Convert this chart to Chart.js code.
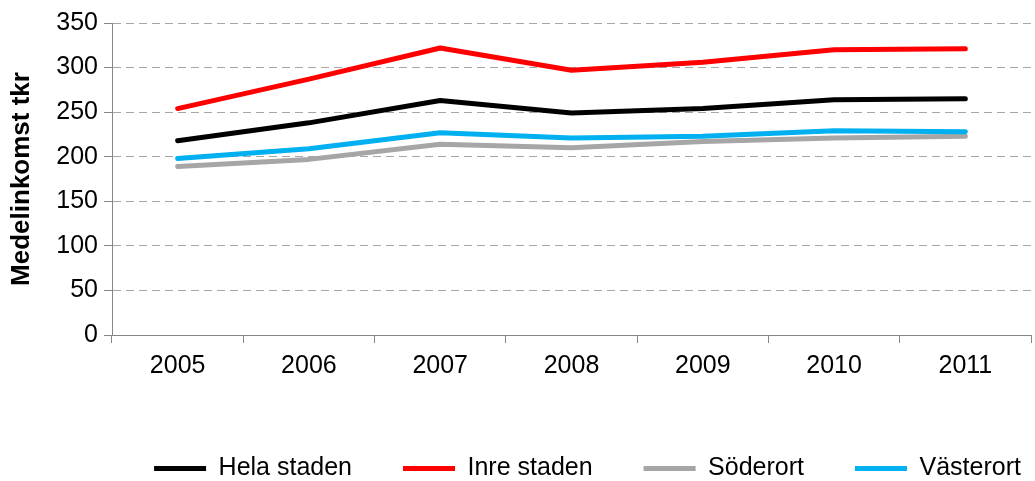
<!DOCTYPE html>
<html>
<head>
<meta charset="utf-8">
<script src="https://cdn.jsdelivr.net/npm/chart.js@4/dist/chart.umd.min.js"></script>
<style>
  html, body { margin: 0; padding: 0; background: #fff; }
  #wrap { width: 1035px; height: 481px; }
</style>
</head>
<body>
<div id="wrap"><canvas id="chart" width="1035" height="481"></canvas></div>
<script>
// data (tkr)
const years = ['2005', '2006', '2007', '2008', '2009', '2010', '2011']
const helaStaden = [218, 238, 263, 249, 254, 264, 265]
const inreStaden = [254, 287, 322, 297, 306, 320, 321]
const soderort = [189, 197, 214, 210, 217, 221, 223]
const vasterort = [198, 209, 227, 221, 223, 229, 228]
const yTicks = [0, 50, 100, 150, 200, 250, 300, 350]

const axisGrey = '#868686'
const font = { family: '"Liberation Sans", Arial, sans-serif', size: 25 }

function line(label, data, color, order) {
  return {
    label: label,
    data: data,
    borderColor: color,
    backgroundColor: color,
    borderWidth: 5,
    borderCapStyle: 'round',
    borderJoinStyle: 'round',
    pointRadius: 0,
    tension: 0,
    order: order
  }
}

// legend padding is also the gap between items, so pin its height here
// and shift the row to the right like in the original
const legendFix = {
  id: 'legendFix',
  beforeUpdate(chart) {
    const lg = chart.legend
    if (lg && !lg._fixed) {
      const fit = lg.fit
      lg.fit = function () { fit.call(this); this.height = 76 }
      const draw = lg.draw
      lg.draw = function () {
        const c = this.ctx
        c.save()
        c.translate(72, 0)
        draw.call(this)
        c.restore()
      }
      lg._fixed = true
    }
  }
}

const ctx = document.getElementById('chart').getContext('2d')

new Chart(ctx, {
  type: 'line',
  data: {
    labels: years,
    datasets: [
      line('Hela staden', helaStaden, '#000000', 3),
      line('Inre staden', inreStaden, '#ff0000', 2),
      line('Söderort', soderort, '#a6a6a6', 1),
      line('Västerort', vasterort, '#00b0f0', 0)
    ]
  },
  plugins: [legendFix],
  options: {
    responsive: false,
    animation: false,
    layout: { padding: { top: 23, right: 4, left: 0, bottom: 0 } },
    plugins: {
      tooltip: { enabled: false },
      legend: {
        position: 'bottom',
        labels: {
          usePointStyle: true,
          pointStyle: 'line',
          pointStyleWidth: 52,
          padding: 51,
          color: '#000',
          font: font,
          sort: (a, b) => a.datasetIndex - b.datasetIndex
        }
      }
    },
    scales: {
      x: {
        offset: true,
        grid: {
          offset: true,
          drawOnChartArea: false,
          drawTicks: true,
          tickLength: 8,
          tickColor: axisGrey
        },
        border: { color: axisGrey, width: 1 },
        ticks: { color: '#000', font: font, padding: 8, maxRotation: 0 },
        afterFit: (scale) => { scale.height = 70 }
      },
      y: {
        min: 0,
        max: 350,
        afterBuildTicks: (scale) => { scale.ticks = yTicks.map(v => ({ value: v })) },
        grid: {
          color: (c) => c.tick && c.tick.value === 0 ? 'rgba(0,0,0,0)' : '#a6a6a6',
          tickColor: axisGrey,
          tickLength: 8,
          tickBorderDash: [],
          lineWidth: 1
        },
        border: { color: axisGrey, width: 1, dash: [8, 5] },
        ticks: { color: '#000', font: font, padding: 6 },
        title: {
          display: true,
          text: 'Medelinkomst tkr',
          color: '#000',
          font: { family: font.family, size: 26, weight: 'bold' },
          padding: { top: 6, bottom: 0 }
        },
        afterFit: (scale) => { scale.width = 112 }
      }
    }
  }
})
</script>
</body>
</html>
